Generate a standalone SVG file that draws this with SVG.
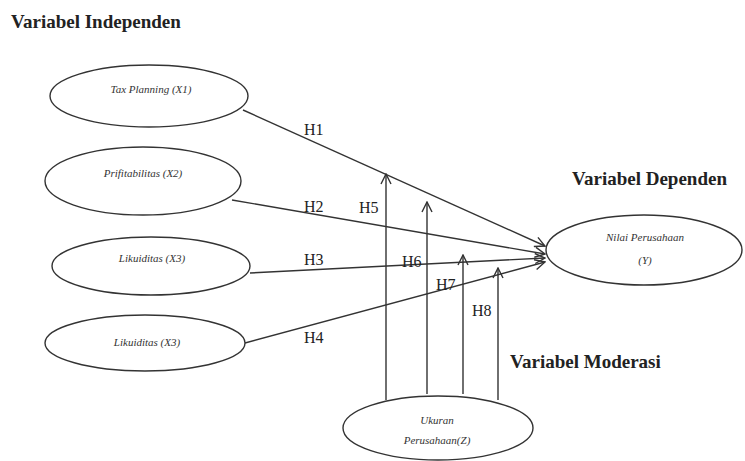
<svg xmlns="http://www.w3.org/2000/svg" width="745" height="461" viewBox="0 0 745 461">
<style>
.title{font-family:"Liberation Serif","Times New Roman",serif;font-weight:bold;font-size:19px;fill:#222}
.lab{font-family:"Liberation Serif","Times New Roman",serif;font-size:16px;fill:#222}
.node{font-family:"Liberation Serif","Times New Roman",serif;font-style:italic;font-size:11px;fill:#333;text-anchor:middle}
ellipse{fill:#fff;stroke:#333;stroke-width:1.4}
.c line{stroke:#333;stroke-width:1.4;fill:none}
</style>
<defs>
<marker id="ah" viewBox="0 0 12 12" refX="11" refY="6" markerWidth="12" markerHeight="12" markerUnits="userSpaceOnUse" orient="auto">
<polyline points="1,1 11,6 1,11" fill="none" stroke="#333" stroke-width="1.4"/>
</marker>
</defs>
<rect width="745" height="461" fill="#fff"/>
<text class="title" x="11" y="28">Variabel Independen</text>
<text class="title" x="572" y="185">Variabel Dependen</text>
<text class="title" x="510" y="368">Variabel Moderasi</text>
<g class="c" id="connectors">
<line x1="243" y1="110" x2="545" y2="246" marker-end="url(#ah)"/>
<line x1="232" y1="200" x2="545" y2="254" marker-end="url(#ah)"/>
<line x1="250" y1="273" x2="545" y2="258" marker-end="url(#ah)"/>
<line x1="245" y1="343" x2="545" y2="262" marker-end="url(#ah)"/>
<line x1="386" y1="400" x2="386" y2="174" marker-end="url(#ah)"/>
<line x1="427" y1="394" x2="427" y2="202" marker-end="url(#ah)"/>
<line x1="463" y1="394" x2="463" y2="255" marker-end="url(#ah)"/>
<line x1="498" y1="400" x2="498" y2="268" marker-end="url(#ah)"/>
</g>
<g id="labels">
<text class="lab" x="304" y="135">H1</text>
<text class="lab" x="304" y="212">H2</text>
<text class="lab" x="304" y="265">H3</text>
<text class="lab" x="304" y="343">H4</text>
<text class="lab" x="359" y="213">H5</text>
<text class="lab" x="402" y="267">H6</text>
<text class="lab" x="436" y="290">H7</text>
<text class="lab" x="472" y="316">H8</text>
</g>
<g id="x1"><ellipse cx="149" cy="96" rx="99" ry="31"/><text class="node" x="151" y="93">Tax Planning (X1)</text></g>
<g id="x2"><ellipse cx="143" cy="181" rx="98" ry="34"/><text class="node" x="143" y="177">Prifitabilitas (X2)</text></g>
<g id="x3"><ellipse cx="151" cy="266" rx="99" ry="29"/><text class="node" x="152" y="262">Likuiditas (X3)</text></g>
<g id="x4"><ellipse cx="145" cy="343" rx="100" ry="28"/><text class="node" x="147" y="346">Likuiditas (X3)</text></g>
<g id="y"><ellipse cx="644" cy="250" rx="98" ry="35"/><text class="node" x="645" y="241">Nilai Perusahaan</text><text class="node" x="645" y="264">(Y)</text></g>
<g id="z"><ellipse cx="438" cy="428" rx="95" ry="32"/><text class="node" x="437" y="424">Ukuran</text><text class="node" x="437" y="444">Perusahaan(Z)</text></g>
</svg>
